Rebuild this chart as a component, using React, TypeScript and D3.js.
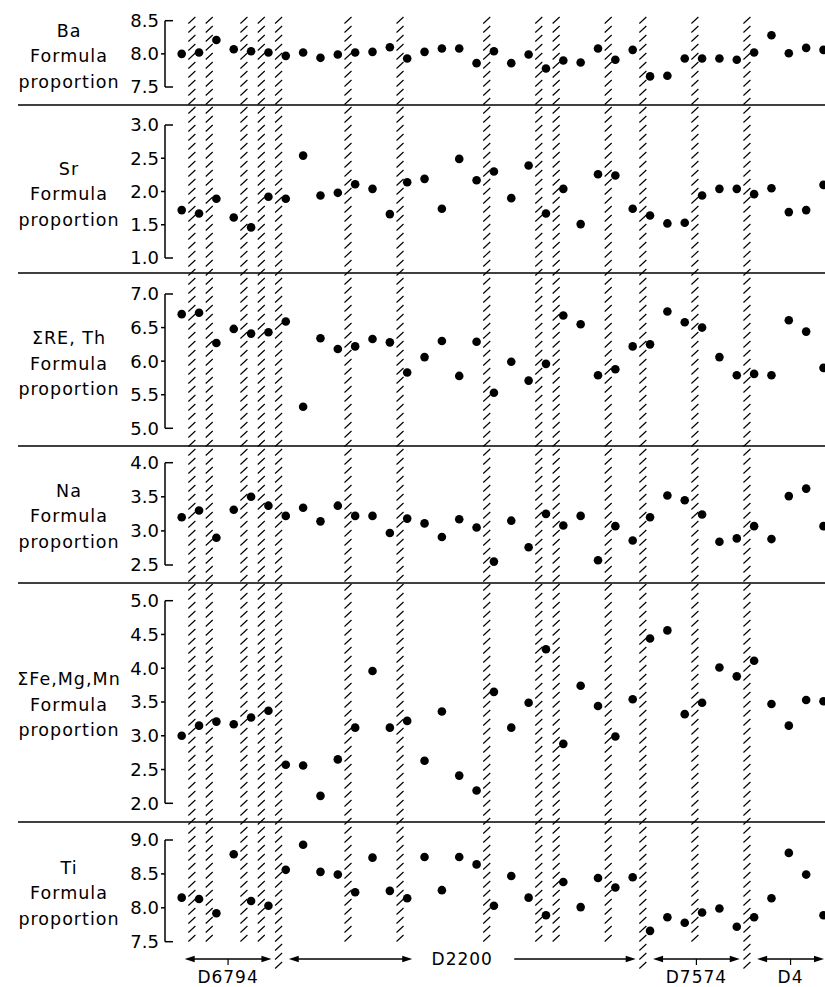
import * as d3 from "d3";

// formula proportions, one value per analysed spot (left to right)
const ba = [8.0, 8.02, 8.21, 8.07, 8.04, 8.02, 7.97, 8.02, 7.94, 7.99, 8.02, 8.03, 8.1, 7.93, 8.03, 8.08, 8.08, 7.86, 8.04, 7.86, 7.99, 7.78, 7.9, 7.87, 8.08, 7.91, 8.06, 7.66, 7.67, 7.93, 7.93, 7.93, 7.91, 8.02, 8.28, 8.01, 8.09, 8.06];
const sr = [1.72, 1.67, 1.89, 1.61, 1.46, 1.92, 1.89, 2.54, 1.94, 1.98, 2.11, 2.04, 1.66, 2.14, 2.19, 1.74, 2.49, 2.17, 2.3, 1.9, 2.39, 1.67, 2.04, 1.51, 2.26, 2.24, 1.74, 1.64, 1.52, 1.53, 1.94, 2.04, 2.04, 1.96, 2.05, 1.69, 1.72, 2.1];
const reTh = [6.7, 6.72, 6.27, 6.48, 6.41, 6.43, 6.59, 5.32, 6.34, 6.18, 6.22, 6.33, 6.28, 5.83, 6.06, 6.3, 5.78, 6.29, 5.53, 5.99, 5.71, 5.96, 6.68, 6.55, 5.79, 5.88, 6.22, 6.25, 6.74, 6.58, 6.5, 6.06, 5.79, 5.81, 5.79, 6.61, 6.44, 5.9];
const na = [3.2, 3.3, 2.9, 3.31, 3.5, 3.37, 3.22, 3.34, 3.14, 3.37, 3.22, 3.22, 2.97, 3.18, 3.11, 2.91, 3.17, 3.05, 2.55, 3.15, 2.76, 3.25, 3.08, 3.22, 2.57, 3.07, 2.86, 3.2, 3.52, 3.45, 3.24, 2.84, 2.89, 3.07, 2.88, 3.51, 3.62, 3.07];
const feMgMn = [3.0, 3.15, 3.21, 3.17, 3.27, 3.37, 2.57, 2.56, 2.11, 2.65, 3.12, 3.96, 3.12, 3.22, 2.63, 3.36, 2.41, 2.19, 3.65, 3.12, 3.49, 4.28, 2.88, 3.74, 3.44, 2.99, 3.54, 4.44, 4.56, 3.32, 3.49, 4.01, 3.88, 4.11, 3.47, 3.15, 3.53, 3.51];
const ti = [8.15, 8.13, 7.92, 8.79, 8.1, 8.03, 8.56, 8.93, 8.53, 8.49, 8.23, 8.74, 8.25, 8.14, 8.75, 8.26, 8.75, 8.64, 8.03, 8.47, 8.15, 7.89, 8.38, 8.01, 8.44, 8.3, 8.45, 7.66, 7.86, 7.78, 7.93, 7.99, 7.72, 7.86, 8.14, 8.81, 8.49, 7.89];

// hatched boundaries sit after these spot indices
const boundaries = [0, 1, 3, 4, 5, 9, 12, 17, 20, 21, 24, 26, 29, 32];
const groupBoundaries = [5, 26, 32];

const groupNames = ["D6794", "D2200", "D7574", "D4"];
const groupFirst = [0, 6, 27, 33];
const groupLast = [5, 26, 32, 37];

const panelLabels = [["Ba"], ["Sr"], ["\u03a3RE, Th"], ["Na"], ["\u03a3Fe,Mg,Mn"], ["Ti"]];
const panelDomains: [number, number][] = [[7.5, 8.5], [1.0, 3.0], [5.0, 7.0], [2.5, 4.0], [2.0, 5.0], [7.5, 9.0]];
const panelRanges: [number, number][] = [[87, 20.7], [258, 125], [428.3, 294], [565, 462.7], [803.3, 600.7], [941.7, 840]];
const panelData = [ba, sr, reTh, na, feMgMn, ti];
const dividers = [105, 273, 446, 583, 822];

const W = 825;
const H = 987;
const AXIS_X = 165;
const FONT = "DejaVu Sans, Verdana, sans-serif";

const x = d3.scaleLinear().domain([0, 37]).range([181.7, 823.5]);
const fmt = d3.format(".1f");

function Hatch({ cx, top, bottom }: { cx: number; top: number; bottom: number }) {
  let d = "";
  for (let y = top; y + 6 <= bottom; y += 9) {
    d += `M${cx - 3.5},${y + 6.5}L${cx + 3.5},${y}`;
  }
  return <path d={d} stroke="#000" strokeWidth={1.15} fill="none" />;
}

function Arrow({ x1, x2, y }: { x1: number; x2: number; y: number }) {
  return (
    <g>
      <line x1={x1 + 8} x2={x2 - 8} y1={y} y2={y} stroke="#000" strokeWidth={1.3} />
      <path d={`M${x1},${y}L${x1 + 10},${y - 3.2}L${x1 + 10},${y + 3.2}Z`} fill="#000" />
      <path d={`M${x2},${y}L${x2 - 10},${y - 3.2}L${x2 - 10},${y + 3.2}Z`} fill="#000" />
    </g>
  );
}

export default function App() {
  return (
    <div style={{ position: "absolute", left: 0, top: 0 }}>
      <svg width={W} height={H} style={{ display: "block", background: "#fff" }}>
        {/* hatched boundary bands */}
        {boundaries.map((b) => {
          const cx = x(b + 0.5) + 1.5;
          const long = groupBoundaries.includes(b);
          return <Hatch key={b} cx={cx} top={17} bottom={long ? 968 : 942} />;
        })}

        {/* panel dividers */}
        {dividers.map((y) => (
          <line key={y} x1={18} x2={W} y1={y} y2={y} stroke="#000" strokeWidth={1.5} />
        ))}

        {panelData.map((vals, p) => {
          const y = d3.scaleLinear().domain(panelDomains[p]).range(panelRanges[p]);
          const [lo, hi] = panelDomains[p];
          const ticks = d3.range(lo, hi + 0.001, 0.5);
          const mid = y((lo + hi) / 2);
          const lines = [...panelLabels[p], "Formula", "proportion"];
          return (
            <g key={p}>
              {/* axis */}
              <line x1={AXIS_X} x2={AXIS_X} y1={y(lo)} y2={y(hi)} stroke="#000" strokeWidth={1.5} />
              {ticks.map((t, i) => {
                const end = i === 0 || i === ticks.length - 1;
                return (
                  <g key={t}>
                    <line
                      x1={end ? AXIS_X : AXIS_X - 4}
                      x2={end ? AXIS_X + 8 : AXIS_X}
                      y1={y(t)}
                      y2={y(t)}
                      stroke="#000"
                      strokeWidth={1.5}
                    />
                    <text
                      x={AXIS_X - 6}
                      y={y(t)}
                      dy="0.36em"
                      textAnchor="end"
                      fontFamily={FONT}
                      fontSize={18}
                    >
                      {fmt(t)}
                    </text>
                  </g>
                );
              })}
              {/* side label */}
              {lines.map((s, i) => (
                <text
                  key={i}
                  x={69}
                  y={mid - 17 + i * 25.5}
                  textAnchor="middle"
                  fontFamily={FONT}
                  fontSize={17.5}
                  letterSpacing={1}
                >
                  {s}
                </text>
              ))}
              {/* points */}
              {vals.map((v, i) => (
                <circle key={i} cx={x(i)} cy={y(v)} r={4.3} fill="#000" />
              ))}
            </g>
          );
        })}

        {/* sample groups */}
        {groupNames.map((name, g) => {
          const x1 = x(groupFirst[g]) + 3;
          const x2 = Math.min(x(groupLast[g]) + 3, W - 1);
          const cx = (x1 + x2) / 2;
          const ay = 959;
          if (name === "D2200") {
            return (
              <g key={name}>
                <Arrow x1={x1} x2={cx - 50} y={ay} />
                <rect x={cx - 50} y={ay - 4} width={100} height={8} fill="#fff" />
                <line x1={cx + 52} x2={x2 - 8} y1={ay} y2={ay} stroke="#000" strokeWidth={1.3} />
                <path d={`M${x2},${ay}L${x2 - 10},${ay - 3.2}L${x2 - 10},${ay + 3.2}Z`} fill="#000" />
                <text x={cx} y={ay} dy="0.36em" textAnchor="middle" fontFamily={FONT} fontSize={17} letterSpacing={1}>
                  {name}
                </text>
              </g>
            );
          }
          return (
            <g key={name}>
              <Arrow x1={x1} x2={x2} y={ay} />
              <line x1={cx} x2={cx} y1={ay} y2={ay + 6} stroke="#000" strokeWidth={1.2} />
              <text x={cx} y={983} textAnchor="middle" fontFamily={FONT} fontSize={17} letterSpacing={1}>
                {name}
              </text>
            </g>
          );
        })}
      </svg>
    </div>
  );
}
